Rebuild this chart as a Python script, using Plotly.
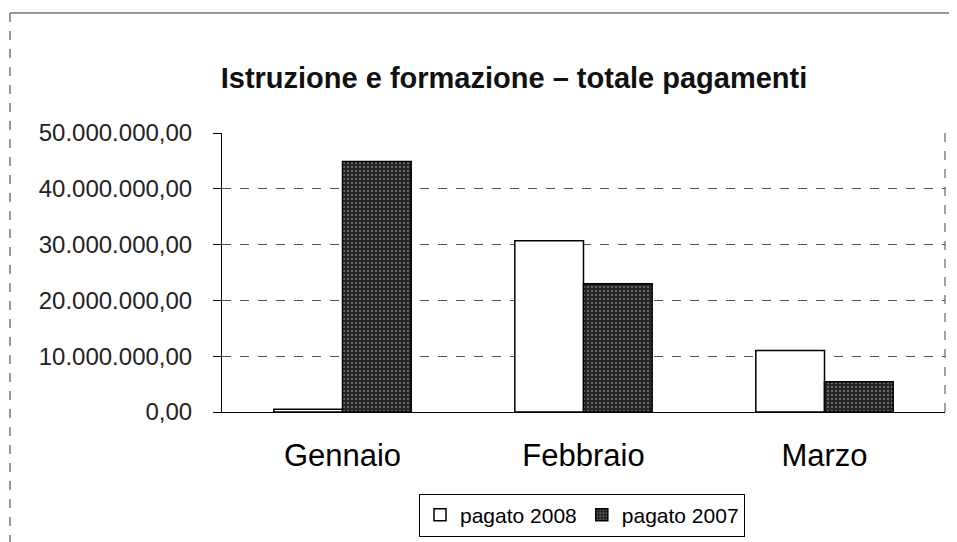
import plotly.graph_objects as go

categories = ["Gennaio", "Febbraio", "Marzo"]
pagato_2008 = [500000, 30700000, 11000000]
pagato_2007 = [44900000, 23000000, 5400000]
y_ticks = [0, 10000000, 20000000, 30000000, 40000000, 50000000]

# the page shows the figure 8px in from the window's top-left corner
OFF = 8
W, H = 957 - OFF, 542 - OFF
L, R, T, B = 222 - OFF, 957 - 945, 133 - OFF, 542 - 412
pw, ph = W - L - R, H - T - B

def px_x(sx):
    return (sx - OFF - L) / pw

def px_y(sy):
    return (H - B - (sy - OFF)) / ph

fig = go.Figure()
fig.add_trace(go.Bar(
    x=categories, y=pagato_2008, name="pagato 2008",
    marker=dict(color="white", line=dict(color="black", width=1.5)),
))
fig.add_trace(go.Bar(
    x=categories, y=pagato_2007, name="pagato 2007",
    marker=dict(color="#262626", line=dict(color="black", width=1.5),
                pattern=dict(shape=".", bgcolor="#262626", fgcolor="#c8c8c8",
                             size=4, solidity=0.22)),
))

fig.update_layout(
    width=W, height=H,
    margin=dict(l=L, r=R, t=T, b=B, autoexpand=False),
    paper_bgcolor="white", plot_bgcolor="white",
    separators=",.",
    barmode="group", bargap=0.43, bargroupgap=0,
    font=dict(family="Liberation Sans, Arial", color="black"),
    title=dict(text="<b>Istruzione e formazione – totale pagamenti</b>",
               font=dict(size=29, color="#111111"),
               x=(514 - OFF) / W, xanchor="center", xref="container",
               y=1 - (78 - OFF) / H, yanchor="middle", yref="container"),
    showlegend=True,
    legend=dict(orientation="h", x=px_x(582), xanchor="center",
                y=px_y(515), yanchor="middle",
                bordercolor="black", borderwidth=1, bgcolor="white",
                font=dict(size=21), itemwidth=30, traceorder="normal"),
    xaxis=dict(showgrid=False, showline=True, linecolor="black", linewidth=1,
               tickfont=dict(size=31), ticks="", ticklabelstandoff=16),
    yaxis=dict(range=[0, 50000000], tickvals=y_ticks, tickformat=",.2f",
               showgrid=True, gridcolor="#555555", griddash="dash", gridwidth=1,
               showline=True, linecolor="black", linewidth=1,
               ticks="outside", ticklen=8, tickcolor="black",
               tickfont=dict(size=24, color="#222222"), ticklabelstandoff=16,
               zeroline=False),
    shapes=[
        dict(type="line", xref="paper", yref="paper",
             x0=px_x(10), x1=px_x(960), y0=px_y(13), y1=px_y(13),
             line=dict(color="#333333", width=1.2)),
        dict(type="line", xref="paper", yref="paper",
             x0=px_x(10), x1=px_x(10), y0=px_y(13), y1=px_y(545),
             line=dict(color="#555555", width=1.2, dash="dash")),
        dict(type="line", xref="paper", yref="paper", x0=1, x1=1, y0=0, y1=1,
             line=dict(color="#444444", width=1, dash="dash")),
    ],
)

fig.write_html("out.html")
